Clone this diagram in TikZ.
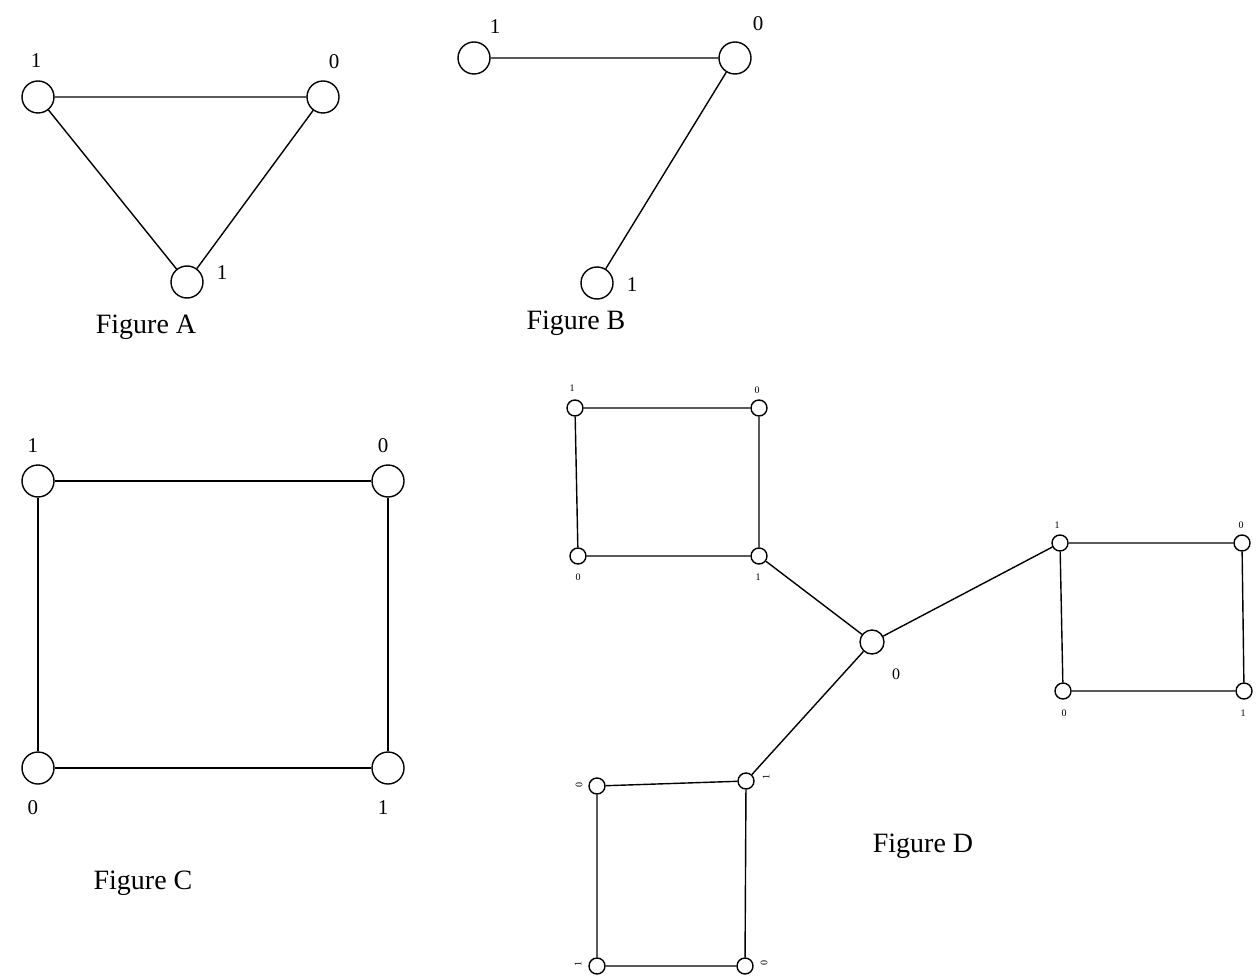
\documentclass[tikz,border=0pt]{standalone}
\usepackage{fontspec}
\setmainfont{Liberation Serif}
\begin{document}
\begin{tikzpicture}[x=0.5pt,y=-0.5pt,
  big/.style={draw,circle,inner sep=0pt,minimum size=16pt,line width=0.7pt},
  mid/.style={draw,circle,inner sep=0pt,minimum size=12pt,line width=0.7pt},
  tiny/.style={draw,circle,inner sep=0pt,minimum size=8pt,line width=0.7pt},
  link/.style={line width=0.7pt},
  lab/.style={inner sep=0pt,font=\fontsize{10.5}{10.5}\selectfont},
  sm/.style={inner sep=0pt,font=\fontsize{5}{5}\selectfont},
  figcap/.style={inner sep=0pt,font=\fontsize{14}{14}\selectfont}]
\useasboundingbox (0,0) rectangle (1256,978);

% Figure A: triangle
\node[big] (a1) at (38,97) {};
\node[big] (a0) at (323,97) {};
\node[big] (a2) at (187,282) {};
\draw[link] (a1) -- (a0) (a1) -- (a2) (a0) -- (a2);
\node[lab] (la1) at (36,61) {1};
\node[lab] (la0) at (334,62) {0};
\node[lab] (la2) at (222,273) {1};
\node[figcap] (capA) at (146,327) {Figure A};

% Figure B: path of three
\node[big] (b1) at (474,58) {};
\node[big] (b0) at (735,58) {};
\node[big] (b2) at (597,283) {};
\draw[link] (b1) -- (b0) (b0) -- (b2);
\node[lab] (lb1) at (495,27) {1};
\node[lab] (lb0) at (758,24) {0};
\node[lab] (lb2) at (632,285) {1};
\node[figcap] (capB) at (576,323) {Figure B};

% Figure C: square
\node[big] (c1) at (38,481) {};
\node[big] (c2) at (388,481) {};
\node[big] (c3) at (38,768) {};
\node[big] (c4) at (388,768) {};
\draw[link] (c1) -- (c2) -- (c4) -- (c3) -- (c1);
\node[lab] (lc1) at (33,446) {1};
\node[lab] (lc2) at (383,446) {0};
\node[lab] (lc3) at (33,808) {0};
\node[lab] (lc4) at (383,808) {1};
\node[figcap] (capC) at (143,883) {Figure C};

% Figure D: hub with three squares
\node[mid] (hub) at (872,642) {};
\node[inner sep=0pt,font=\fontsize{8}{8}\selectfont] (lhub) at (896,674) {0};

\node[tiny] (p1) at (575,408) {};
\node[tiny] (p2) at (759,408) {};
\node[tiny] (p3) at (578,556) {};
\node[tiny] (p4) at (759,556) {};
\draw[link] (p1) -- (p2) -- (p4) -- (p3) -- (p1);
\node[sm] (lp1) at (572,388) {1};
\node[sm] (lp2) at (757,390) {0};
\node[sm] (lp3) at (578,577) {0};
\node[sm] (lp4) at (758,577) {1};

\node[tiny] (q1) at (1060,543) {};
\node[tiny] (q2) at (1242,543) {};
\node[tiny] (q3) at (1063,691) {};
\node[tiny] (q4) at (1244,691) {};
\draw[link] (q1) -- (q2) -- (q4) -- (q3) -- (q1);
\node[sm] (lq1) at (1057,525) {1};
\node[sm] (lq2) at (1241,525) {0};
\node[sm] (lq3) at (1064,713) {0};
\node[sm] (lq4) at (1243,713) {1};

\node[tiny] (r1) at (597,786) {};
\node[tiny] (r2) at (746,781) {};
\node[tiny] (r3) at (597,966) {};
\node[tiny] (r4) at (745,966) {};
\draw[link] (r1) -- (r2) -- (r4) -- (r3) -- (r1);
\node[sm,rotate=90] (lr1) at (579,785) {0};
\node[sm,rotate=90] (lr2) at (766,777) {1};
\node[sm,rotate=90] (lr3) at (578,964) {1};
\node[sm,rotate=90] (lr4) at (764,963) {0};

\draw[link] (p4) -- (hub);
\draw[link] (hub) -- (q1);
\draw[link] (hub) -- (r2);
\node[figcap] (capD) at (923,846) {Figure D};
\end{tikzpicture}
\end{document}
